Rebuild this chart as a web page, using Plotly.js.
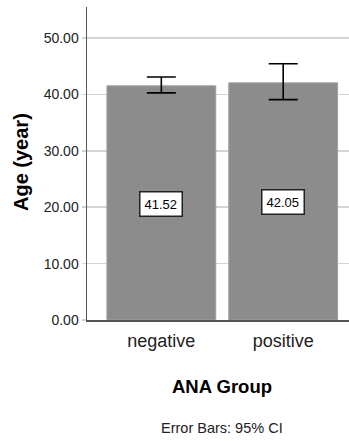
<!DOCTYPE html>
<html>
<head>
<meta charset="utf-8">
<script src="https://cdn.plot.ly/plotly-3.0.1.min.js"></script>
<style>
html,body{margin:0;padding:0;background:#fff;}
#chart{width:349px;height:441px;}
</style>
</head>
<body>
<div id="chart"></div>
<script>
const categories = ["negative", "positive"];
const means = [41.52, 42.05];
const ciUpper = [43.1, 45.45];
const ciLower = [40.27, 39.08];
const yTicks = [0, 10, 20, 30, 40, 50];
const meanLabels = ["41.52", "42.05"];

const errPlus = means.map((m, i) => ciUpper[i] - m);
const errMinus = means.map((m, i) => m - ciLower[i]);

const W = 349, H = 441, L = 87, R = 0, T = 7, B = 121;
const pw = W - L - R, ph = H - T - B;
const px = x => (x - L) / pw;
const py = y => (H - B - y) / ph;

const font = "Liberation Sans, Arial, sans-serif";

const trace = {
  type: "bar",
  x: categories,
  y: means,
  width: 0.893,
  marker: {color: "#8c8c8c", line: {color: "#a0a0a0", width: 1}},
  error_y: {
    type: "data", symmetric: false,
    array: errPlus, arrayminus: errMinus,
    color: "#000", thickness: 1.6, width: 14.5
  },
  hoverinfo: "skip"
};

const labelYOffset = [20.5, 20.95];
const annotations = categories.map((c, i) => ({
  x: c, y: labelYOffset[i], xref: "x", yref: "y",
  xanchor: "center", yanchor: "middle",
  text: meanLabels[i], showarrow: false,
  font: {family: font, size: 13, color: "#000"},
  bgcolor: "#fff", bordercolor: "#222", borderwidth: 1.5, borderpad: 4
}));
annotations.push({
  x: px(222), y: py(386), xref: "paper", yref: "paper",
  xanchor: "center", yanchor: "middle",
  text: "<b>ANA Group</b>", showarrow: false,
  font: {family: font, size: 18.5, color: "#000"}
});
annotations.push({
  x: px(222), y: py(428), xref: "paper", yref: "paper",
  xanchor: "center", yanchor: "middle",
  text: "Error Bars: 95% CI", showarrow: false,
  font: {family: font, size: 14.5, color: "#222"}
});
annotations.push({
  x: px(21), y: py(162), xref: "paper", yref: "paper",
  xanchor: "center", yanchor: "middle",
  text: "<b>Age (year)</b>", showarrow: false, textangle: -90,
  font: {family: font, size: 20, color: "#000"}
});

const layout = {
  width: W, height: H,
  margin: {l: L, r: R, t: T, b: B, pad: 0},
  paper_bgcolor: "#fff", plot_bgcolor: "#fff",
  showlegend: false,
  xaxis: {
    type: "category", range: [-0.61, 1.54],
    showgrid: false, zeroline: false,
    showline: true, linecolor: "#555", linewidth: 1.5,
    ticks: "", ticklabelstandoff: 4,
    tickfont: {family: font, size: 18, color: "#222"},
    fixedrange: true
  },
  yaxis: {
    range: [0, 55.5],
    tickvals: yTicks, tickformat: ".2f",
    showgrid: true, gridcolor: "#d4d4d4", gridwidth: 1.5,
    zeroline: false,
    showline: true, linecolor: "#555", linewidth: 1.5,
    ticks: "outside", ticklen: 4, tickcolor: "#d4d4d4", tickwidth: 1.5,
    tickfont: {family: font, size: 14, color: "#222"},
    fixedrange: true
  },
  annotations: annotations,
  bargap: 0
};

Plotly.newPlot("chart", [trace], layout, {staticPlot: true, displayModeBar: false});
</script>
</body>
</html>
